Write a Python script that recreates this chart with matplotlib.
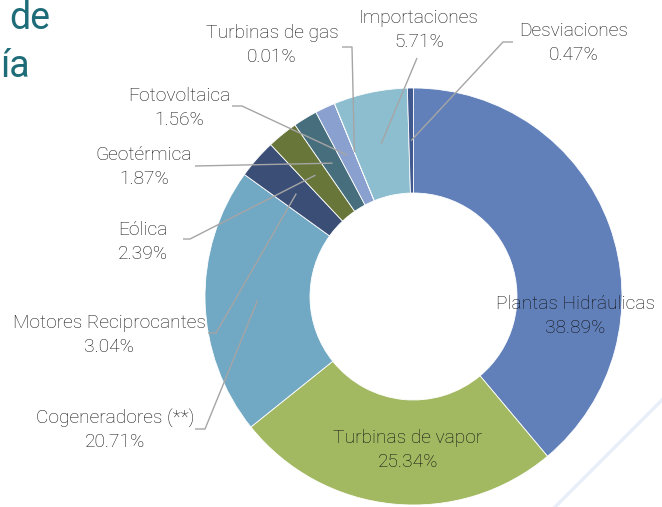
import numpy as np
import matplotlib.pyplot as plt

# Data: share of generation by source (%), clockwise from 12 o'clock
sources = ['Plantas Hidráulicas', 'Turbinas de vapor', 'Cogeneradores (**)',
           'Motores Reciprocantes', 'Eólica', 'Geotérmica', 'Fotovoltaica',
           'Turbinas de gas', 'Importaciones', 'Desviaciones']
shares = [38.89, 25.34, 20.71, 3.04, 2.39, 1.87, 1.56, 0.01, 5.71, 0.47]
colors = ['#6180BA', '#A2B861', '#71A8C4', '#3B4E76', '#68763A',
          '#466E7C', '#8AA1CF', '#B9C9E3', '#8CBED0', '#40598F']

W, H = 662, 507
plt.rcParams['font.family'] = ['Roboto', 'DejaVu Sans']

fig = plt.figure(figsize=(W / 100, H / 100), dpi=100)
ax = fig.add_axes([0, 0, 1, 1])

# donut geometry in pixel units (y measured from the top)
cx, cy, R = 413.5, 296.5, 208.5
ring = 105


def P(x, y):
    return x, H - y


wedges, _ = ax.pie(shares, colors=colors, startangle=90, counterclock=False,
                   radius=R, center=P(cx, cy),
                   wedgeprops=dict(width=ring, edgecolor='white', linewidth=0.6))
ax.set_xlim(0, W)
ax.set_ylim(0, H)
ax.set_aspect('equal')
ax.axis('off')

txt_color = '#111111'
fs = 13.8

# labels inside the ring
inside = {0: (575, 316), 1: (408, 450)}
# labels outside: text centre and leader line start (with elbow)
outside = {
    2: ((115, 430), [(195, 429), (205, 429)]),
    3: ((109, 335), [(208, 333), (216, 333)]),
    4: ((143, 242), [(183, 239), (190, 239)]),
    5: ((144, 167), [(195, 166)]),
    6: ((179, 108), [(232, 106), (242, 106)]),
    7: ((272, 45), [(342, 47), (352, 47)]),
    8: ((419, 30), [(417, 58)]),
    9: ((574, 43), [(513, 42), (503, 42)]),
}

for i, (x, y) in inside.items():
    ax.text(*P(x, y), f"{sources[i]}\n{shares[i]:.2f}%", ha='center', va='center',
            fontsize=fs, fontweight='light', color=txt_color, linespacing=1.36)

for i, ((x, y), pts) in outside.items():
    w = wedges[i]
    mid = np.deg2rad((w.theta1 + w.theta2) / 2)
    rm = R - ring / 2
    ax_, ay_ = w.center[0] + rm * np.cos(mid), w.center[1] + rm * np.sin(mid)
    xs = [p[0] for p in pts] + [ax_]
    ys = [H - p[1] for p in pts] + [ay_]
    ax.plot(xs, ys, color='#A5A5A5', lw=1.0, solid_capstyle='butt')
    ax.text(*P(x, y), f"{sources[i]}\n{shares[i]:.2f}%", ha='center', va='center',
            fontsize=fs, fontweight='light', color=txt_color, linespacing=1.36)

# cut-off title fragments and decoration
ax.text(*P(9, 29), 'de', fontsize=27, color='#1D6C78', ha='left', va='baseline')
ax.text(*P(0, 77), 'ía', fontsize=27, color='#1D6C78', ha='left', va='baseline')
ax.plot([W + 2, 553], [H - 398, -2], color='#E9EFF8', lw=2.5)

fig.savefig('out.png', dpi=100)
